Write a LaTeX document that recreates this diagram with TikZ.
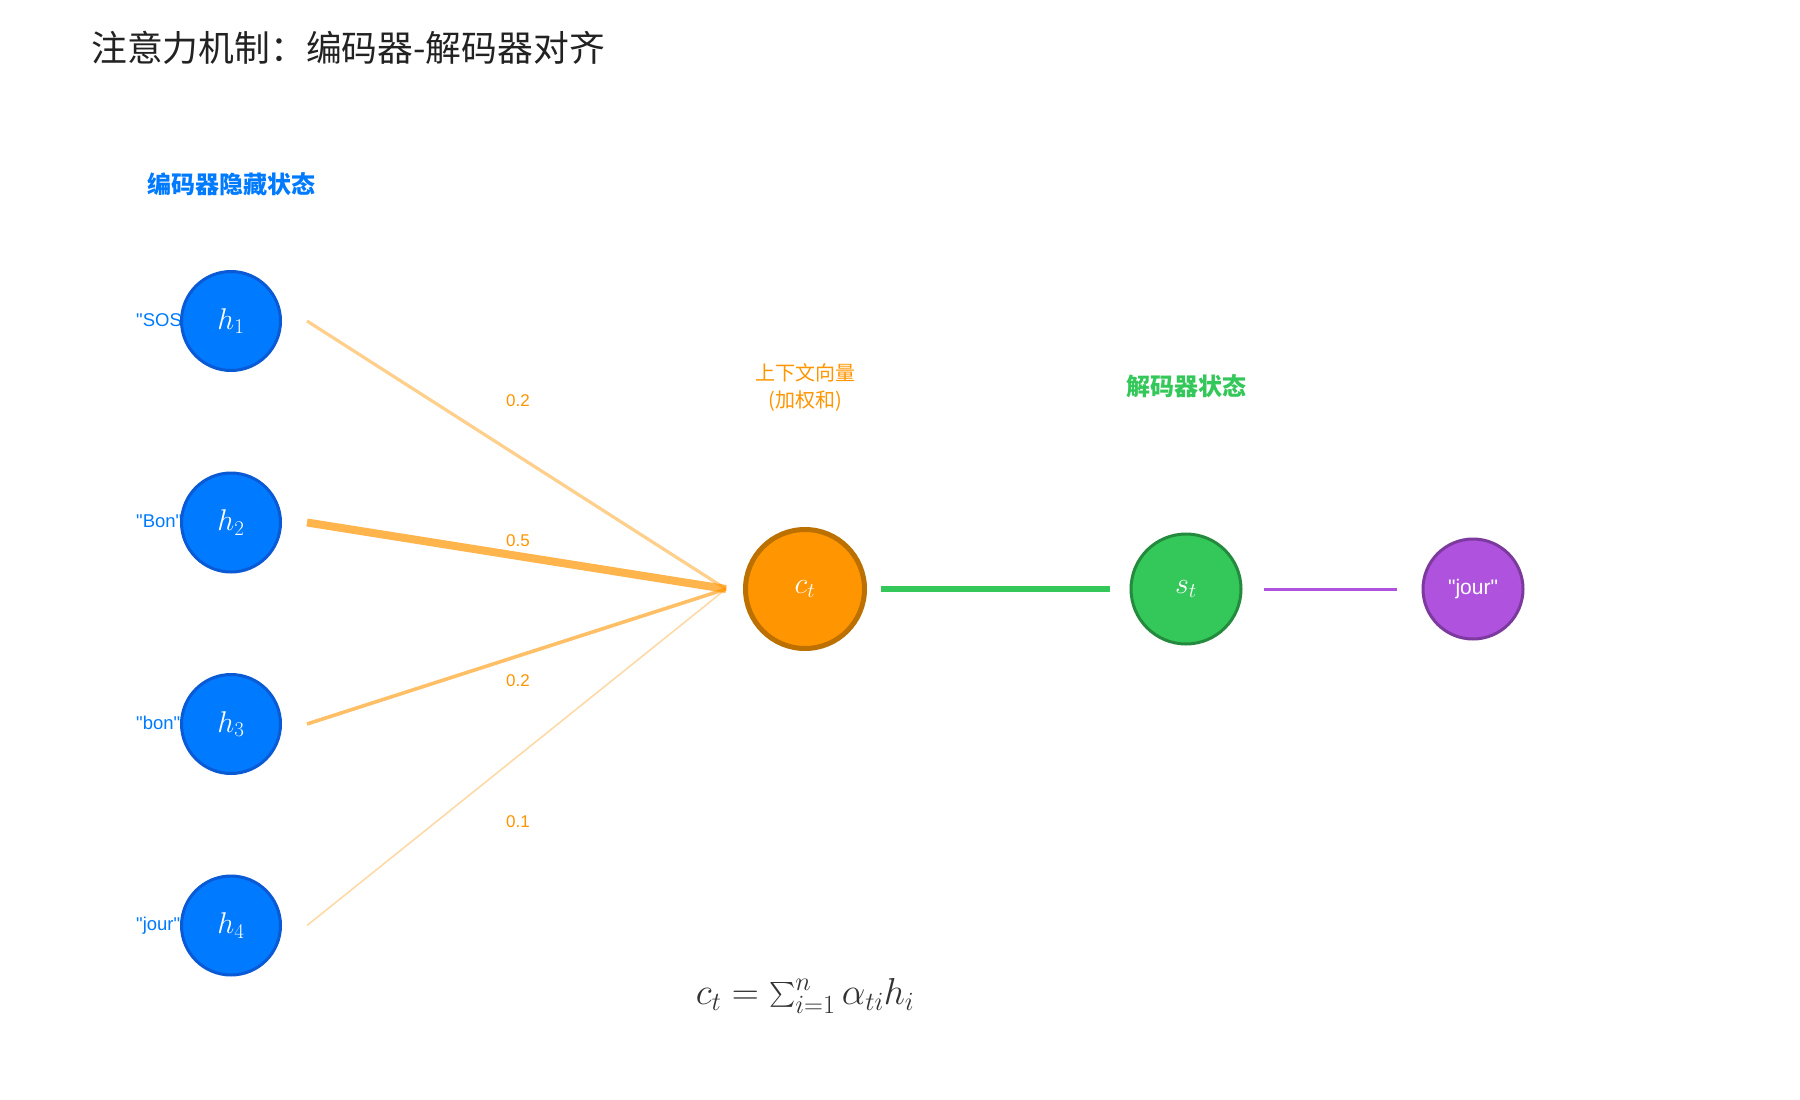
\RequirePackage{fix-cm}
\documentclass[tikz,border=0pt]{standalone}
\usepackage{amsmath}
\usepackage[no-math]{fontspec}
\setmainfont{Liberation Sans}
\newfontfamily\cjk{Noto Sans CJK SC}
\definecolor{encblue}{HTML}{007AFF}
\definecolor{encborder}{HTML}{0A5AD6}
\definecolor{ctxorange}{HTML}{FF9500}
\definecolor{ctxborder}{HTML}{BC7000}
\definecolor{decgreen}{HTML}{34C759}
\definecolor{decborder}{HTML}{248A3D}
\definecolor{outpurple}{HTML}{AF52DE}
\definecolor{outborder}{HTML}{7D3A9E}
\definecolor{titlegray}{HTML}{222222}
\definecolor{formgray}{HTML}{333333}
\begin{document}
\begin{tikzpicture}[x=1pt, y=-1pt,
    hstate/.style={circle, draw=encborder, fill=encblue, line width=3pt, minimum size=99pt, text=white, font=\fontsize{30}{34}\selectfont},
    token/.style={anchor=base west, inner sep=0pt, text=encblue, font=\fontsize{18.5}{22}\selectfont},
    poids/.style={text=ctxorange, font=\fontsize{17}{20}\selectfont},
    attn/.style={draw=ctxorange, line cap=butt}]
    \useasboundingbox[fill=white] (0,0) rectangle (1800,1100);

    % Titre
    \node[anchor=west, inner sep=0pt, text=titlegray, font=\cjk\fontsize{35.8}{40}\selectfont] (titre) at (91,48) {注意力机制：编码器-解码器对齐};

    % Etats caches de l'encodeur
    \node[text=encblue, font=\cjk\bfseries\fontsize{24}{28}\selectfont] (enclabel) at (231,184) {编码器隐藏状态};
    \foreach \i/\mot in {1/SOS, 2/Bon, 3/bon, 4/jour} {
        \node[token] (tok\i) at (136, {326+201.5*(\i-1)}) {\textquotedbl\mot\textquotedbl};
        \node[hstate] (h\i) at (231, {321+201.5*(\i-1)}) {$h_{\i}$};
    }

    % Vecteur de contexte
    \node[circle, draw=ctxborder, fill=ctxorange, line width=5pt, minimum size=119pt, text=white, font=\fontsize{30}{34}\selectfont] (ct) at (805,589) {$c_t$};
    \node[text=ctxorange, align=center, font=\cjk\fontsize{20}{27}\selectfont] (ctlabel) at (805,387) {上下文向量\\(加权和)};
    \coordinate (foyer) at ([xshift=-17pt]ct.west);

    % Poids d'attention
    \foreach \i/\w/\lw/\op/\ly in {1/0.2/3.2/0.45/401, 2/0.5/8/0.7/541, 3/0.2/3.6/0.6/681, 4/0.1/1.6/0.35/822} {
        \draw[attn, line width=\lw pt, draw opacity=\op] ([xshift=25pt]h\i.east) -- (foyer);
        \node[poids] (w\i) at (518,\ly) {\w};
    }

    % Decodeur
    \node[circle, draw=decborder, fill=decgreen, line width=3pt, minimum size=110pt, text=white, font=\fontsize{30}{34}\selectfont] (st) at (1186,589) {$s_t$};
    \node[text=decgreen, font=\cjk\bfseries\fontsize{24}{28}\selectfont] (declabel) at (1186,386) {解码器状态};
    \node[circle, draw=outborder, fill=outpurple, line width=3pt, minimum size=100pt, text=white, font=\fontsize{21}{24}\selectfont] (sortie) at (1473,589) {\textquotedbl jour\textquotedbl};
    \draw[decgreen, line width=6pt, shorten <=14pt, shorten >=20pt] (ct) -- (st);
    \draw[outpurple, line width=3pt, shorten <=21pt, shorten >=25pt] (st) -- (sortie);

    % Formule
    \node[text=formgray, font=\fontsize{37.5}{42}\selectfont] (formule) at (805,996) {$c_t = \sum_{i=1}^{n} \alpha_{ti} h_i$};
\end{tikzpicture}
\end{document}
